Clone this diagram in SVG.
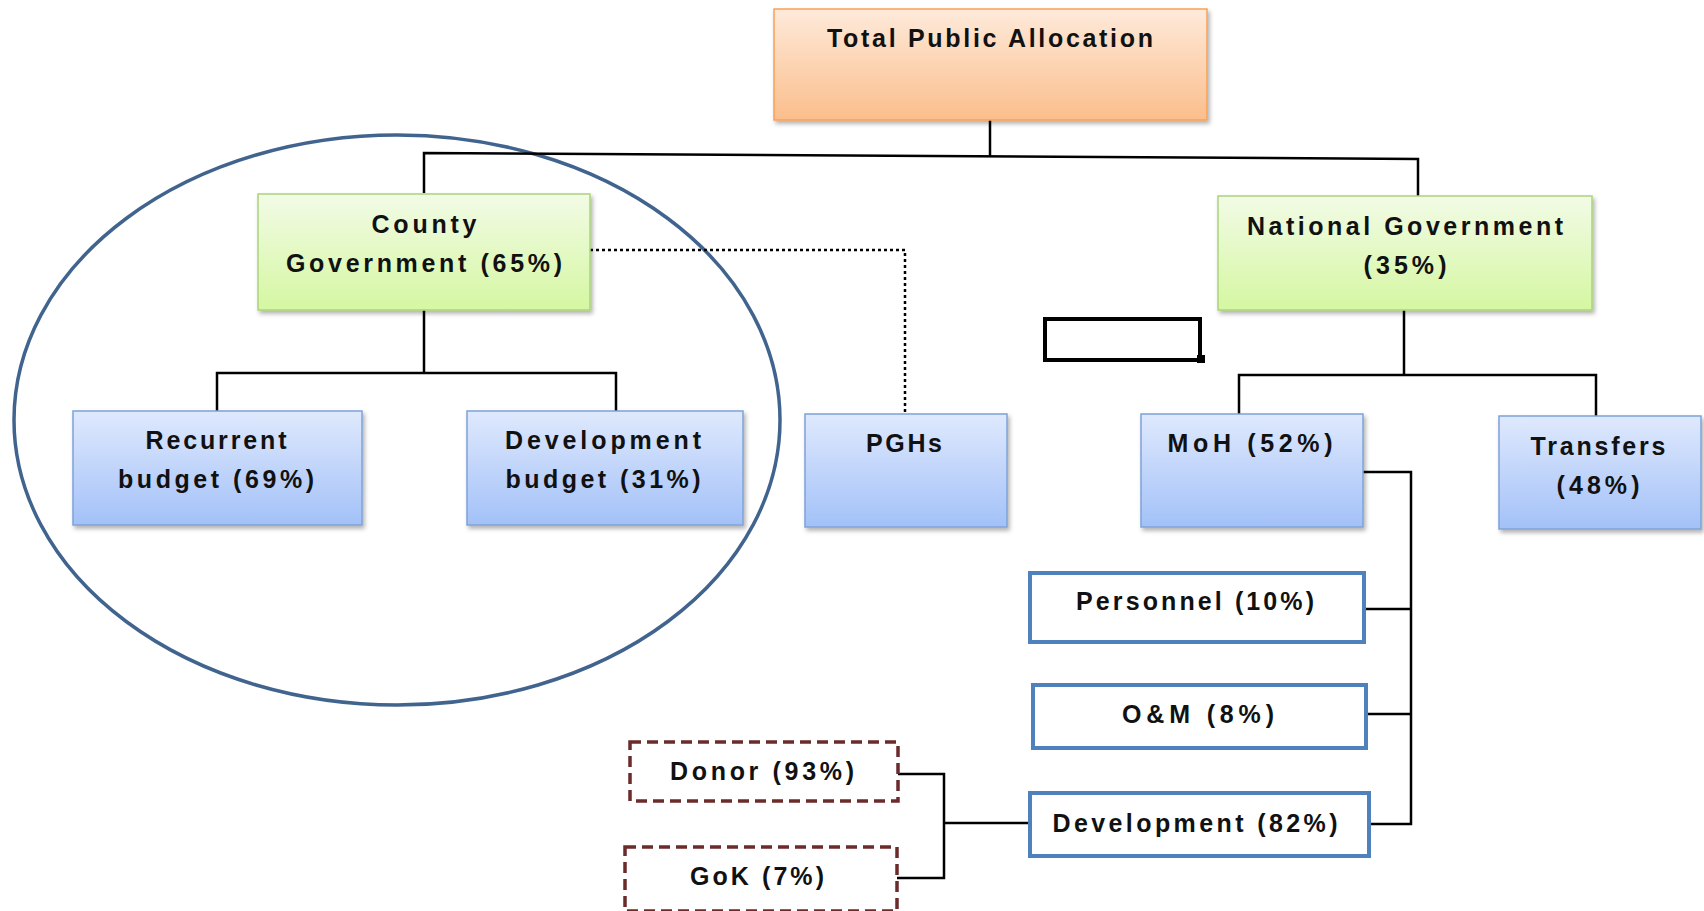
<svg xmlns="http://www.w3.org/2000/svg" width="1704" height="911" viewBox="0 0 1704 911">
<defs>
<linearGradient id="gOrange" x1="0" y1="0" x2="0" y2="1"><stop offset="0" stop-color="#FEEADA"/><stop offset="1" stop-color="#FBBE8C"/></linearGradient>
<linearGradient id="gGreen" x1="0" y1="0" x2="0" y2="1"><stop offset="0" stop-color="#F2FBE6"/><stop offset="1" stop-color="#D5F7A2"/></linearGradient>
<linearGradient id="gBlue" x1="0" y1="0" x2="0" y2="1"><stop offset="0" stop-color="#DFE9FD"/><stop offset="1" stop-color="#A3C1F8"/></linearGradient>
<filter id="sh" x="-10%" y="-10%" width="125%" height="130%"><feDropShadow dx="2" dy="3" stdDeviation="2" flood-color="#000" flood-opacity="0.3"/></filter>
</defs>
<style>
text{font-family:"Liberation Sans",Arial,sans-serif;font-weight:bold;font-size:25px;fill:#111;text-anchor:middle}
.orange{fill:url(#gOrange);stroke:#F7A15A;stroke-width:1.5}
.green{fill:url(#gGreen);stroke:#A9D57A;stroke-width:1.5}
.blue{fill:url(#gBlue);stroke:#7EA3D9;stroke-width:1.5}
.plain{fill:#fff;stroke:#4F81BD;stroke-width:4}
.dash{fill:#fff;stroke:#6B2B2B;stroke-width:3.5;stroke-dasharray:11 6}
.conn{fill:none;stroke:#000;stroke-width:2.5}
</style>
<rect width="1704" height="911" fill="#fff"/>
<ellipse id="county-circle" cx="397" cy="420" rx="383" ry="285" fill="none" stroke="#41648F" stroke-width="3.5"/>
<g id="connectors">
<path class="conn" d="M990,120 V157"/>
<path class="conn" d="M424,193 V153 L1418,159 V196"/>
<path class="conn" d="M424,310 V373 M217,411 V373 H616 V411"/>
<path class="conn" d="M1404,310 V375 M1239,414 V375 H1596 V416"/>
<path class="conn" d="M1363,472 H1411 V824 H1369 M1364,609 H1411 M1366,714 H1411"/>
<path class="conn" d="M898,774 H944 V878 H897 M944,823 H1029"/>
<path fill="none" stroke="#000" stroke-width="2.5" stroke-dasharray="3 3" d="M590,250 H905 V414"/>
</g>
<g id="total"><rect class="orange" x="774" y="9" width="433" height="111" filter="url(#sh)"/><text x="990" y="47" textLength="326" lengthAdjust="spacing">Total Public Allocation</text></g>
<g id="county"><rect class="green" x="258" y="194" width="332" height="116" filter="url(#sh)"/><text x="424" y="233" textLength="105" lengthAdjust="spacing">County</text><text x="424" y="272" textLength="276" lengthAdjust="spacing">Government (65%)</text></g>
<g id="national"><rect class="green" x="1218" y="196" width="374" height="114" filter="url(#sh)"/><text x="1405" y="235" textLength="316" lengthAdjust="spacing">National Government</text><text x="1405" y="274" textLength="83" lengthAdjust="spacing">(35%)</text></g>
<g id="recurrent"><rect class="blue" x="73" y="411" width="289" height="114" filter="url(#sh)"/><text x="216" y="449" textLength="141" lengthAdjust="spacing">Recurrent</text><text x="216" y="488" textLength="196" lengthAdjust="spacing">budget (69%)</text></g>
<g id="devbudget"><rect class="blue" x="467" y="411" width="276" height="114" filter="url(#sh)"/><text x="603" y="449" textLength="196" lengthAdjust="spacing">Development</text><text x="603" y="488" textLength="195" lengthAdjust="spacing">budget (31%)</text></g>
<g id="pghs"><rect class="blue" x="805" y="414" width="202" height="113" filter="url(#sh)"/><text x="904" y="452" textLength="76" lengthAdjust="spacing">PGHs</text></g>
<g id="empty-box"><rect x="1045" y="319" width="155" height="41" fill="none" stroke="#000" stroke-width="4"/><rect x="1197" y="355" width="8" height="8" fill="#000"/></g>
<g id="moh"><rect class="blue" x="1141" y="414" width="222" height="113" filter="url(#sh)"/><text x="1250" y="452" textLength="165" lengthAdjust="spacing">MoH (52%)</text></g>
<g id="transfers"><rect class="blue" x="1499" y="416" width="202" height="113" filter="url(#sh)"/><text x="1598" y="455" textLength="135" lengthAdjust="spacing">Transfers</text><text x="1598" y="494" textLength="83" lengthAdjust="spacing">(48%)</text></g>
<g id="personnel"><rect class="plain" x="1030" y="573" width="334" height="69"/><text x="1195" y="610" textLength="238" lengthAdjust="spacing">Personnel (10%)</text></g>
<g id="om"><rect class="plain" x="1033" y="685" width="333" height="63"/><text x="1198" y="723" textLength="152" lengthAdjust="spacing">O&amp;M (8%)</text></g>
<g id="development"><rect class="plain" x="1030" y="793" width="339" height="63"/><text x="1195" y="832" textLength="285" lengthAdjust="spacing">Development (82%)</text></g>
<g id="donor"><rect class="dash" x="630" y="742" width="268" height="59"/><text x="762" y="780" textLength="184" lengthAdjust="spacing">Donor (93%)</text></g>
<g id="gok"><rect class="dash" x="625" y="847" width="272" height="64"/><text x="757" y="885" textLength="134" lengthAdjust="spacing">GoK (7%)</text></g>
</svg>
